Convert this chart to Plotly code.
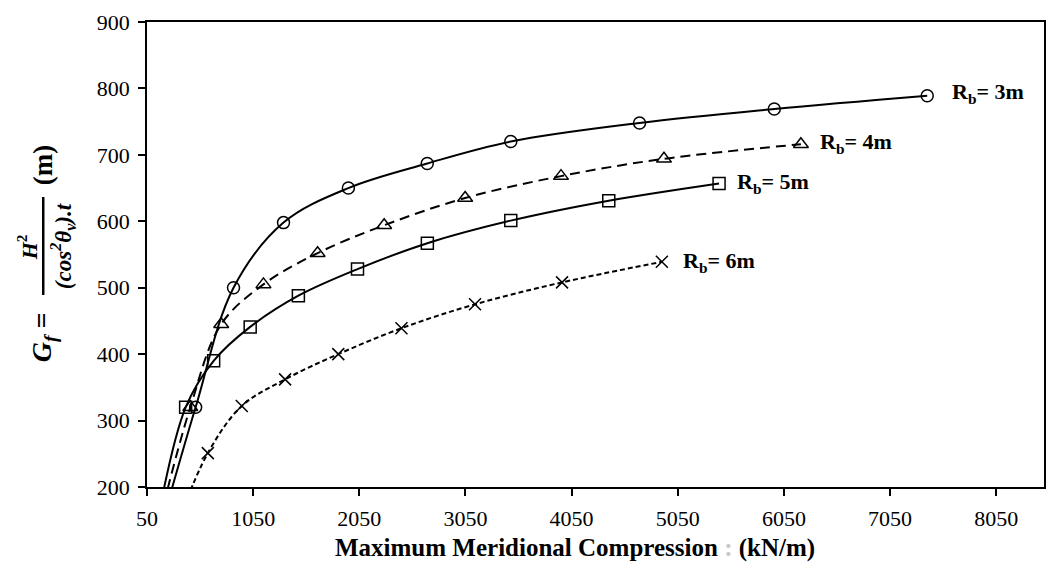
import plotly.graph_objects as go

# ---- data ----
r3_x = [200, 508, 865, 1336, 1947, 2690, 3477, 4690, 5959, 7400]
r3_y = [150, 320, 500, 598, 650, 687, 720, 748, 769, 789]

r4_x = [170, 458, 749, 1147, 1657, 2284, 3047, 3950, 4920, 6210]
r4_y = [150, 320, 445, 505, 552, 594, 635, 668, 694, 716]

r5_x = [150, 414, 678, 1022, 1476, 2033, 2691, 3477, 4400, 5439]
r5_y = [150, 320, 390, 441, 488, 528, 567, 601, 631, 657]

r6_x = [350, 623, 943, 1351, 1852, 2447, 3140, 3960, 4900]
r6_y = [150, 251, 322, 362, 400, 439, 475, 508, 539]

x_ticks = [50, 1050, 2050, 3050, 4050, 5050, 6050, 7050, 8050]
y_ticks = [200, 300, 400, 500, 600, 700, 800, 900]

series = [
    ("R3", r3_x, r3_y, "circle-open", "solid", 12),
    ("R4", r4_x, r4_y, "triangle-up-open", "10px,6px", 13),
    ("R5", r5_x, r5_y, "square-open", "solid", 12),
    ("R6", r6_x, r6_y, "x-thin-open", "5px,3px", 12),
]

labels = [
    ("R<sub>b</sub>= 3m", 7610, 793),
    ("R<sub>b</sub>= 4m", 6372, 718),
    ("R<sub>b</sub>= 5m", 5590, 658),
    ("R<sub>b</sub>= 6m", 5085, 539),
]

FONT = "Liberation Serif"

fig = go.Figure()
for name, xs, ys, sym, dash, size in series:
    fig.add_trace(go.Scatter(
        x=xs, y=ys, mode="lines+markers", name=name,
        line=dict(color="black", width=2, dash=dash, shape="spline", smoothing=1.0),
        marker=dict(symbol=sym, size=size, color="black", line=dict(color="black", width=1.5)),
        showlegend=False,
    ))

annotations = []
for txt, lx, ly in labels:
    annotations.append(dict(x=lx, y=ly, xref="x", yref="y", text="<b>" + txt + "</b>",
                            showarrow=False, xanchor="left", yanchor="middle",
                            font=dict(family=FONT, size=22, color="black")))

L, R, T, B = 147, 2, 22, 80
W, H = 1048, 567
pw, ph = W - L - R, H - T - B

def px(xp):
    return (xp - L) / pw

def py(yp):
    return (H - B - yp) / ph

# x axis title
annotations.append(dict(x=px(576), y=py(548), xref="paper", yref="paper", showarrow=False,
                        xanchor="center", yanchor="middle",
                        text="<b>Maximum Meridional Compression <span style='color:#c8c8c8'>:</span> (kN/m)</b>",
                        font=dict(family=FONT, size=25, color="black")))

# y axis title (rotated fraction)
annotations += [
    dict(x=px(43), y=py(337), xref="paper", yref="paper", showarrow=False, textangle=-90,
         xanchor="center", yanchor="middle",
         text="<b><i>G<sub>f</sub></i> =</b>", font=dict(family=FONT, size=28, color="black")),
    dict(x=px(27), y=py(247), xref="paper", yref="paper", showarrow=False, textangle=-90,
         xanchor="center", yanchor="middle",
         text="<b><i>H</i><sup>2</sup></b>", font=dict(family=FONT, size=22, color="black")),
    dict(x=px(62), y=py(246), xref="paper", yref="paper", showarrow=False, textangle=-90,
         xanchor="center", yanchor="middle",
         text="<b><i>(cos<sup>2</sup>θ<sub>v</sub>).t</i></b>", font=dict(family=FONT, size=23, color="black")),
    dict(x=px(43), y=py(165), xref="paper", yref="paper", showarrow=False, textangle=-90,
         xanchor="center", yanchor="middle",
         text="<b>(m)</b>", font=dict(family=FONT, size=27, color="black")),
]

shapes = [dict(type="line", xref="paper", yref="paper", x0=px(43), x1=px(43),
               y0=py(295), y1=py(197), line=dict(color="black", width=2.5))]

fig.update_layout(
    width=W, height=H,
    margin=dict(l=L, r=R, t=T, b=B),
    paper_bgcolor="white", plot_bgcolor="white",
    font=dict(family=FONT, size=22, color="black"),
    annotations=annotations, shapes=shapes,
    xaxis=dict(range=[50, 8500], tickvals=x_ticks, ticktext=[str(v) for v in x_ticks],
               showgrid=False, zeroline=False, showline=True, linecolor="black", linewidth=1.5,
               mirror=True, ticks="outside", ticklen=7, tickwidth=1.5, tickcolor="black",
               ticklabelstandoff=4,
               tickfont=dict(family=FONT, size=22, color="black")),
    yaxis=dict(range=[200, 900], tickvals=y_ticks, ticktext=[str(v) for v in y_ticks],
               showgrid=False, zeroline=False, showline=True, linecolor="black", linewidth=1.5,
               mirror=True, ticks="outside", ticklen=7, tickwidth=1.5, tickcolor="black",
               ticklabelstandoff=4,
               tickfont=dict(family=FONT, size=22, color="black")),
)

fig.write_html("out.html")
